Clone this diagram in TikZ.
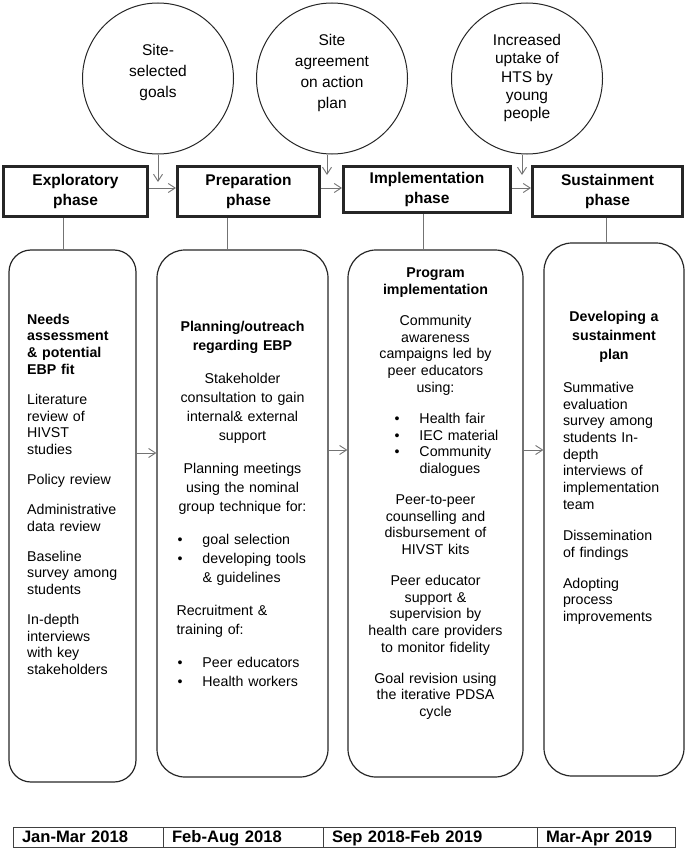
\documentclass[tikz,border=0pt]{standalone}
\usepackage{fontspec}
\setmainfont{Liberation Sans}
\usetikzlibrary{arrows.meta,positioning}
\newcommand{\pgap}[1][13.5pt]{\par\vspace{#1}}
\newcommand{\bul}[2][0pt]{\par\noindent\hspace*{#1}\makebox[25pt][l]{\textbullet}#2}
\tikzset{goal/.style={draw=black!85,circle,line width=1pt,minimum size=151pt,inner sep=0pt},goaltxt/.style={align=center,inner sep=0pt,font=\fontsize{15.5}{21}\selectfont},phase/.style={draw=black!85,line width=3pt,align=center,inner sep=0pt,font=\fontsize{15.5}{20}\selectfont\bfseries},stage/.style={draw=black!85,line width=1.2pt,rounded corners=28pt,inner sep=0pt},stagetxt/.style={anchor=north,inner sep=0pt,font=\fontsize{14.2}{16.7}\selectfont},arrow/.style={-{Straight Barb[length=7pt,width=9pt]},draw=black!55,line width=0.9pt},link/.style={draw=black!55,line width=0.9pt},period/.style={draw=black!75,line width=0.9pt,outer sep=0pt,inner xsep=9pt,inner ysep=2.5pt,minimum height=20pt,text height=12pt,text depth=3pt,align=left,font=\fontsize{16.6}{18}\selectfont\bfseries}}

\begin{document}
\begin{tikzpicture}[x=1pt,y=1pt]
\useasboundingbox (0,0) rectangle (685,-848);
\node[goal] (g1) at (158,-78.5) {};
\node[goal] (g2) at (332,-78.5) {};
\node[goal] (g3) at (527,-78.5) {};
\node[goaltxt] (g1t) at (158,-72.6) {Site-\\selected\\goals};
\node[goaltxt] (g2t) at (332,-73) {Site\\agreement\\on action\\plan};
\node[goaltxt,font=\fontsize{15.5}{18.3}\selectfont] (g3t) at (527,-78) {Increased\\uptake of\\HTS by\\young\\people};
\node[phase,minimum width=144pt,minimum height=50pt] (b1) at (75.5,-191.5) {Exploratory\\phase};
\node[phase,minimum width=142pt,minimum height=50pt] (b2) at (248.5,-191.5) {Preparation\\phase};
\node[phase,minimum width=167pt,minimum height=46pt] (b3) at (427,-189.5) {Implementation\\phase};
\node[phase,minimum width=150pt,minimum height=50pt] (b4) at (607.5,-191.5) {Sustainment\\phase};
\node[stage,rounded corners=22pt,minimum width=127pt,minimum height=532pt] (r1) at (72.5,-516) {};
\node[stage,minimum width=171pt,minimum height=527pt] (r2) at (242.5,-513.5) {};
\node[stage,minimum width=175pt,minimum height=527pt] (r3) at (435.5,-513.5) {};
\node[stage,minimum width=140pt,minimum height=533pt] (r4) at (614,-509.5) {};
\node[stagetxt,anchor=north west,text width=100pt,align=left] (r1t) at (27,-313.8) {{\bfseries Needs\\assessment\\\& potential\\EBP fit}\pgap[13.3pt]
Literature\\review of\\HIVST\\studies\pgap[13.3pt]Policy review\pgap[13.3pt]Administrative\\data review\pgap[13.3pt]Baseline\\survey among\\students\pgap[13.3pt]In-depth\\interviews\\with key\\stakeholders};
\node[stagetxt,text width=132pt,align=center,font=\fontsize{14.2}{19}\selectfont] (r2t) at (242.5,-320.9) {{\bfseries Planning/outreach\\regarding EBP}\pgap[14pt]
Stakeholder\\consultation to gain\\internal\& external\\support\pgap[14pt]Planning meetings\\using the nominal\\group technique for:\pgap[14pt]
{\raggedright\bul[1pt]{goal selection}\bul[1pt]{developing tools\\\hspace*{26pt}\& guidelines}\pgap[14pt]Recruitment \&\\training of:\pgap[14pt]\bul[1pt]{Peer educators}\bul[1pt]{Health workers}\par}};
\node[stagetxt,text width=136pt,align=center] (r3t) at (435.5,-267.9) {{\bfseries Program\\implementation}\pgap[14.3pt]
Community\\awareness\\campaigns led by\\peer educators\\using:\pgap[14.3pt]
{\raggedright\bul[27pt]{Health fair}\bul[27pt]{IEC material}\bul[27pt]{Community\\\hspace*{52pt}dialogues}\par}\pgap[14.3pt]
Peer-to-peer\\counselling and\\disbursement of\\HIVST kits\pgap[14.3pt]Peer educator\\support \&\\supervision by\\health care providers\\to monitor fidelity\pgap[14pt]Goal revision using\\the iterative PDSA\\cycle};
\node[stagetxt,text width=102pt,align=center] (r4t) at (614,-310.9) {{\fontsize{14.2}{19}\selectfont\bfseries Developing a\\sustainment\\plan\par}\pgap[16.4pt]
{\raggedright Summative\\evaluation\\survey among\\students In-\\depth\\interviews of\\implementation\\team\pgap[14.4pt]Dissemination\\of findings\pgap[14.4pt]Adopting\\process\\improvements\par}};
\coordinate (hy) at (0,-188);
\coordinate (ly) at (0,-450);
\draw[arrow] (g1.south) -- ([yshift=-17pt]g1.south |- b1.north);
\draw[arrow] ([xshift=-5pt]g2.south) -- ([xshift=-5pt,yshift=-10pt]g2.south |- b2.north);
\draw[arrow] ([xshift=-5pt]g3.south) -- ([xshift=-5pt,yshift=-10pt]g3.south |- b3.north);
\draw[arrow] (b1.east |- hy) -- (b2.west |- hy); \draw[arrow] (b2.east |- hy) -- (b3.west |- hy); \draw[arrow] (b3.east |- hy) -- (b4.west |- hy);
\draw[link] ([xshift=-12.5pt]b1.south) -- ([xshift=-12.5pt]b1.south |- r1.north); \draw[link] ([xshift=-21.5pt]b2.south) -- ([xshift=-21.5pt]b2.south |- r2.north);
\draw[link] ([xshift=-4pt]b3.south) -- ([xshift=-4pt]b3.south |- r3.north); \draw[link] ([xshift=-1.5pt]b4.south) -- ([xshift=-1.5pt]b4.south |- r4.north);
\draw[arrow] ([yshift=-3pt]r1.east |- ly) -- ([yshift=-3pt]r2.west |- ly); \draw[arrow] (r2.east |- ly) -- (r3.west |- ly); \draw[arrow] (r3.east |- ly) -- (r4.west |- ly);
\node[period,text width=132pt,anchor=west] (p1) at (13,-837.5) {Jan-Mar 2018};
\node[period,text width=142pt,right=0pt of p1] (p2) {Feb-Aug 2018};
\node[period,text width=196pt,right=0pt of p2] (p3) {Sep 2018-Feb 2019};
\node[period,text width=120pt,right=0pt of p3] (p4) {Mar-Apr 2019};
\end{tikzpicture}
\end{document}
